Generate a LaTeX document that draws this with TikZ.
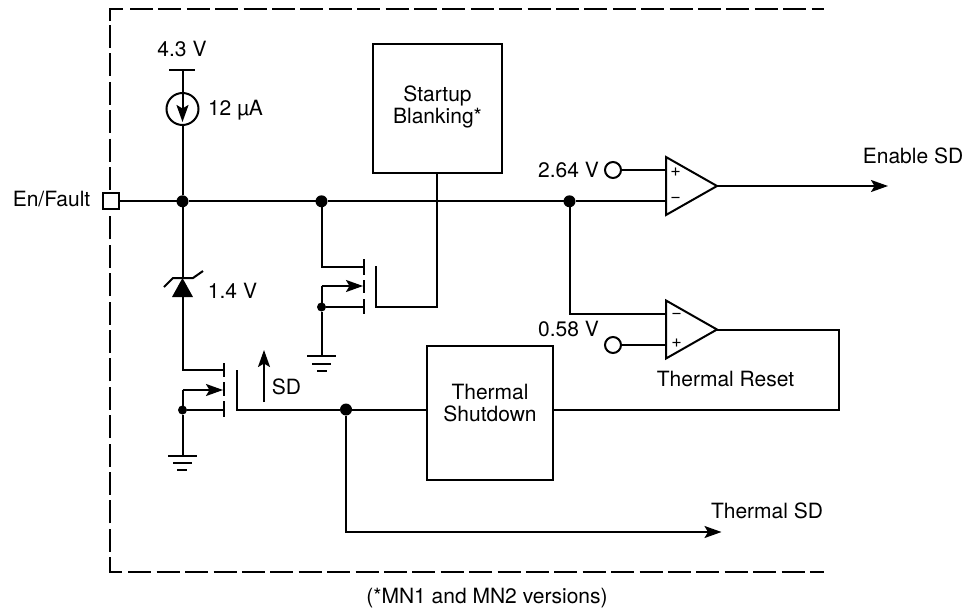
\documentclass[tikz,border=0pt]{standalone}
\usepackage{fontspec}
\setmainfont{TeX Gyre Heros}
\usetikzlibrary{arrows.meta}

\tikzset{
  wire/.style={line width=2pt, line cap=butt, line join=miter},
  frame/.style={line width=2pt, dash pattern=on 23pt off 5.4pt},
  tip/.style={-{Stealth[length=17pt,width=12pt,inset=3.5pt]}},
  dot/.style={circle, fill=black, minimum size=12pt, inner sep=0pt, outer sep=0pt},
  smalldot/.style={circle, fill=black, minimum size=9pt, inner sep=0pt, outer sep=0pt},
  ref/.style={circle, draw, fill=white, line width=2pt, minimum size=16pt, inner sep=0pt, outer sep=0pt},
  padbox/.style={draw, fill=white, line width=2pt, minimum size=16pt, inner sep=0pt, outer sep=0pt},
  blockbox/.style={draw, line width=2pt, inner sep=0pt, outer sep=0pt},
  lbl/.style={inner sep=0pt, outer sep=0pt, align=center, font=\fontsize{21}{22}\selectfont},
  sign/.style={inner sep=0pt, outer sep=0pt, font=\fontsize{18}{18}\selectfont},
}

\begin{document}
\begin{tikzpicture}[x=1pt, y=-1pt]
\useasboundingbox (0,0) rectangle (967,616);

% outline
\draw[wire] (110,21) -- (110,8.5) -- (123,8.5);
\draw[frame] (130,8.5) -- (824,8.5);
\draw[frame] (110,25) -- (110,193);
\draw[frame] (110,551.7) -- (110,212);
\draw[wire] (110,557) -- (110,572) -- (122,572);
\draw[frame] (128.3,572) -- (824,572);

% nodes on the main line
\node[padbox] (pad) at (110.5,201.3) {};
\node[dot] (jfault) at (182.5,201.3) {};
\node[dot] (jblank) at (321.5,201.3) {};
\node[dot] (jcomp) at (569.5,201.3) {};
\node[dot] (jtherm) at (346,409.5) {};
\node[smalldot] (jbulka) at (182.5,410) {};
\node[smalldot] (jbulkb) at (321.5,307) {};

\node[circle, draw, line width=2pt, minimum size=32pt, inner sep=0pt, outer sep=0pt] (isrc) at (182.5,109) {};
\node[ref] (refa) at (613,170) {};
\node[ref] (refb) at (613,345) {};

\node[blockbox, minimum width=129pt, minimum height=129pt] (blank) at (437.5,108.5) {};
\node[blockbox, minimum width=126pt, minimum height=134pt] (shut) at (489.7,413) {};

% comparators
\coordinate (cmpao) at (717,186);
\coordinate (cmpbo) at (717,329.5);
\draw[wire] (666,157) -- (cmpao) -- (666,215) -- cycle;
\draw[wire] (666,300.5) -- (cmpbo) -- (666,358.5) -- cycle;
\node[sign] (cmpap) at (675.5,172) {+};
\node[sign] (cmpam) at (675.5,199.5) {−};
\node[sign] (cmpbm) at (676.5,316) {−};
\node[sign] (cmpbp) at (676.5,343.5) {+};

% main line
\draw[wire] (pad) -- (jfault) -- (jblank) -- (jcomp) -- (666,201.3);
\draw[wire] (refa) -- (666,170);
\draw[wire] (refb) -- (666,345);
\draw[wire] (jcomp) |- (666,314);
\coordinate (outa) at (888,186);
\draw[wire, tip] (cmpao) -- (outa);

% supply and zener
\draw[wire] (169,69.5) -- (195,69.5);
\coordinate (sup) at (182.5,69.5);
\coordinate (isrctip) at (182.5,122);
\draw[wire, tip] (sup) -- (isrctip);
\draw[wire] (isrc) -- (jfault);
\coordinate (zena) at (182.5,278);
\coordinate (zenk) at (182.5,297);
\draw[wire] (jfault) -- (zena);
\fill (zena) -- (193,297) -- (172,297) -- cycle;
\draw[wire] (164,287) -- (173,278) -- (193,278) -- (203,271);

% left fet
\coordinate (drna) at (223,370);
\draw[wire] (zenk) |- (drna);
\draw[wire] (223.5,363) -- (223.5,377);
\draw[wire] (223.5,382) -- (223.5,396);
\draw[wire] (223.5,401) -- (223.5,417);
\coordinate (srca) at (182.5,390);
\coordinate (srcatip) at (223,390);
\draw[wire, tip] (srca) -- (srcatip);
\draw[wire] (srca) -- (jbulka);
\draw[wire] (jbulka) -- (223,410);
\coordinate (gnda) at (182.5,456);
\draw[wire] (jbulka) -- (gnda);
\draw[wire] (168,456) -- (197,456);
\draw[wire] (173,463) -- (192,463);
\draw[wire] (177,470) -- (187,470);
\coordinate (gatea) at (236.5,370);
\draw[wire] (gatea) |- (jtherm);
\draw[wire] (jtherm) -- (shut.west |- jtherm);
\coordinate (sdtail) at (264,402);
\coordinate (sdtip) at (264,350);
\draw[wire, tip] (sdtail) -- (sdtip);

% right fet
\coordinate (drnb) at (363,267);
\draw[wire] (jblank) |- (drnb);
\draw[wire] (363.5,259) -- (363.5,275);
\draw[wire] (363.5,280) -- (363.5,293);
\draw[wire] (363.5,299) -- (363.5,314);
\coordinate (srcb) at (321.5,286);
\coordinate (srcbtip) at (363,286);
\draw[wire, tip] (srcb) -- (srcbtip);
\draw[wire] (srcb) -- (jbulkb);
\draw[wire] (jbulkb) -- (363,307);
\coordinate (gndb) at (321.5,356);
\draw[wire] (jbulkb) -- (gndb);
\draw[wire] (307,356) -- (336,356);
\draw[wire] (312,363.5) -- (331,363.5);
\draw[wire] (317,371) -- (327,371);
\coordinate (gateb) at (375.5,266);
\coordinate (gatec) at (437,307);
\draw[wire] (gateb) |- (gatec) -- (blank.south -| gatec);

% thermal paths
\coordinate (outb) at (721.5,532);
\draw[wire, tip] (jtherm) |- (outb);
\coordinate (fbk) at (838.5,409.5);
\draw[wire] (cmpbo) -| (fbk) -- (shut.east |- fbk);

% labels
\node[lbl] (lfault) at (51.5,199) {En/Fault};
\node[lbl] (lsup) at (182,49) {4.3 V};
\node[lbl] (lcur) at (235.5,110) {12 µA};
\node[lbl] (lzen) at (232.5,291) {1.4 V};
\node[lbl] (lsd) at (286.5,387) {SD};
\node[lbl] (lblank) at (437.5,107) {Startup\\Blanking*};
\node[lbl] (lshut) at (490,403.5) {Thermal\\Shutdown};
\node[lbl] (lrefa) at (568.5,170) {2.64 V};
\node[lbl] (lrefb) at (568.5,329) {0.58 V};
\node[lbl] (lena) at (913,156) {Enable SD};
\node[lbl] (lres) at (725.5,379) {Thermal Reset};
\node[lbl] (ltsd) at (767,511) {Thermal SD};
\node[lbl] (lnote) at (487,598) {(*MN1 and MN2 versions)};
\end{tikzpicture}
\end{document}
